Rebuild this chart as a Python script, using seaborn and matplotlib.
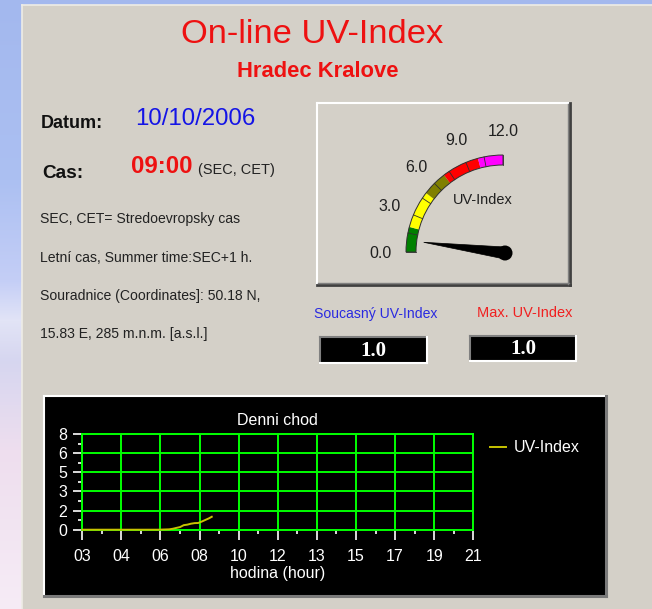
import numpy as np
import matplotlib
matplotlib.use("Agg")
import matplotlib.pyplot as plt
from matplotlib.patches import Rectangle, Wedge, Polygon, Circle
from matplotlib import font_manager
import seaborn as sns

# ---------------- data ----------------
hours = [3.0, 4.0, 5.0, 6.0, 6.5, 7.0, 7.17, 7.33, 7.5, 7.67, 7.83, 8.0,
         8.17, 8.33, 8.5, 8.67, 8.83, 8.96]
uv_index = [0.0, 0.0, 0.0, 0.0, 0.0, 0.03, 0.08, 0.15, 0.22, 0.38, 0.42, 0.5,
            0.55, 0.56, 0.68, 0.82, 0.95, 1.08]
x_tick_labels = ["03", "04", "06", "08", "10", "12", "13", "15", "17", "19", "21"]
y_tick_labels = ["0", "2", "3", "5", "6", "8"]
gauge_ticks = [0.0, 3.0, 6.0, 9.0, 12.0]
gauge_band_edges = [0, 2, 5, 7, 10, 12]
gauge_band_colors = ["#008000", "#ffff00", "#808000", "#ff0000", "#ff00ff"]
current_uv = 1.0
max_uv = 1.0
series_name = "UV-Index"

# ---------------- setup ----------------
W, H, DPI = 652, 609, 100
PT = 72.0 / DPI


def pt(px):
    return px * PT


avail = {f.name for f in font_manager.fontManager.ttflist}
SANS = "Liberation Sans" if "Liberation Sans" in avail else "DejaVu Sans"
NARROW = "Liberation Sans Narrow" if "Liberation Sans Narrow" in avail else SANS
SERIF = "Liberation Serif" if "Liberation Serif" in avail else "DejaVu Serif"
plt.rcParams["font.family"] = [NARROW, "DejaVu Sans"]

PANEL = "#d4d0c8"
fig = plt.figure(figsize=(W / DPI, H / DPI), dpi=DPI)
bg = fig.add_axes([0, 0, 1, 1])
bg.axis("off")

# sky background gradient (left/top strip)
ys = np.arange(H)
stops_y = [0, 180, 280, 320, 360, 450, 609]
stops_c = np.array([[163, 184, 238], [172, 192, 242], [196, 206, 246],
                    [226, 228, 246], [214, 214, 240], [238, 222, 238],
                    [246, 236, 246]]) / 255.0
grad = np.stack([np.interp(ys, stops_y, stops_c[:, k]) for k in range(3)], axis=1)
bg.imshow(grad[:, None, :], extent=[0, W, H, 0], aspect="auto", zorder=0)
bg.set_xlim(0, W)
bg.set_ylim(H, 0)

# main gray panel
bg.add_patch(Rectangle((22, 5), W - 22, H - 5, fc=PANEL, ec="none", zorder=1))
bg.plot([22, 22], [5, H], color="#eeece6", lw=1.2, zorder=1.5)
bg.plot([22, W], [5, 5], color="#eeece6", lw=1.2, zorder=1.5)

# titles
bg.text(312, 43, "On-line UV-Index", color="#ee1111", fontsize=pt(34.5),
        family=SANS, ha="center", va="baseline", zorder=3)
bg.text(318, 77, "Hradec Kralove", color="#ee1111", fontsize=pt(22),
        family=SANS, weight="bold", ha="center", va="baseline", zorder=3)

# left info texts
bg.text(41, 128, "Datum:", fontsize=pt(18), family=SANS, weight="bold",
        color="#111111", va="baseline", zorder=3)
bg.text(135, 125, "10/10/2006", fontsize=pt(24), family=SANS,
        color="#1414e6", va="baseline", zorder=3)
bg.text(42, 178, "Cas:", fontsize=pt(19), family=SANS, weight="bold",
        color="#111111", va="baseline", zorder=3)
bg.text(131, 173, "09:00", fontsize=pt(24), family=SANS, weight="bold",
        color="#ee1111", va="baseline", zorder=3)
bg.text(198, 174, "(SEC, CET)", fontsize=pt(14.5), family=SANS,
        color="#222222", va="baseline", zorder=3)
info_lines = ["SEC, CET= Stredoevropsky cas",
              "Letní cas, Summer time:SEC+1 h.",
              "Souradnice (Coordinates]: 50.18 N,",
              "15.83 E, 285 m.n.m. [a.s.l.]"]
for line, yb in zip(info_lines, [223, 262, 300, 338]):
    bg.text(40, yb, line, fontsize=pt(14), family=SANS, color="#222222",
            va="baseline", zorder=3)

# ---------------- gauge ----------------
gx0, gy0, gx1, gy1 = 317, 103, 570, 285
bg.add_patch(Rectangle((gx0, gy0), gx1 - gx0, gy1 - gy0, fc=PANEL, ec="none", zorder=2))
bg.plot([gx0, gx1], [gy0, gy0], color="white", lw=1.5, zorder=3)
bg.plot([gx0, gx0], [gy0, gy1], color="white", lw=1.5, zorder=3)
bg.plot([gx0, gx1], [gy1, gy1], color="#404040", lw=2, zorder=3)
bg.plot([gx1, gx1], [gy0, gy1], color="#404040", lw=2, zorder=3)
bg.plot([gx0 + 1, gx1 - 1], [gy1 - 2, gy1 - 2], color="#808080", lw=1, zorder=3)
bg.plot([gx1 - 2, gx1 - 2], [gy0 + 1, gy1 - 1], color="#808080", lw=1, zorder=3)

cx, cy = 503, 252
R_OUT, BAND = 97, 10
GMAX = gauge_ticks[-1]


def screen_angle(v):
    return 180.0 - 90.0 * v / GMAX


for v0, v1, col in zip(gauge_band_edges[:-1], gauge_band_edges[1:], gauge_band_colors):
    bg.add_patch(Wedge((cx, cy), R_OUT, -screen_angle(v0), -screen_angle(v1),
                       width=BAND, fc=col, ec="none", zorder=3))
for v in np.arange(0, GMAX + 0.01, 1.5):
    a = np.deg2rad(screen_angle(v))
    bg.plot([cx + (R_OUT - BAND) * np.cos(a), cx + R_OUT * np.cos(a)],
            [cy - (R_OUT - BAND) * np.sin(a), cy - R_OUT * np.sin(a)],
            color="#303030", lw=0.6, zorder=4)
bg.add_patch(Wedge((cx, cy), R_OUT, -screen_angle(0), -screen_angle(GMAX),
                   width=BAND, fc="none", ec="#303030", lw=0.7, zorder=4))

for v in gauge_ticks:
    a = np.deg2rad(screen_angle(v))
    bg.text(cx + 123 * np.cos(a), cy + 2 - 123 * np.sin(a), f"{v:.1f}",
            fontsize=pt(16), family=SANS, color="#202020",
            ha="center", va="center", zorder=4)
bg.text(483, 200, series_name, fontsize=pt(14.5), family=SANS, color="#202020",
        ha="center", va="center", zorder=4)

# needle
a = np.deg2rad(screen_angle(current_uv))
d = np.array([np.cos(a), -np.sin(a)])
perp = np.array([-d[1], d[0]])
piv = np.array([cx + 2, cy + 1])
tip = piv + 82 * d
bg.add_patch(Polygon([tip, piv + 6 * perp, piv - 6 * perp], closed=True,
                     fc="black", ec="black", lw=0.5, zorder=5))
bg.add_patch(Circle(piv, 7.5, fc="black", ec="none", zorder=5))

# value boxes
bg.text(376, 314, "Soucasný UV-Index", fontsize=pt(14), family=SANS,
        color="#2a2ae0", ha="center", va="center", zorder=3)
bg.text(525, 313, "Max. UV-Index", fontsize=pt(14.5), family=SANS,
        color="#f02020", ha="center", va="center", zorder=3)
for (bx0, by0, bx1, by1), val in [((320, 337, 427, 363), current_uv),
                                  ((470, 336, 576, 361), max_uv)]:
    bg.add_patch(Rectangle((bx0, by0), bx1 - bx0, by1 - by0, fc="black",
                           ec="none", zorder=3))
    bg.plot([bx0, bx1], [by0, by0], color="#808080", lw=1.5, zorder=4)
    bg.plot([bx0, bx0], [by0, by1], color="#808080", lw=1.5, zorder=4)
    bg.plot([bx0, bx1], [by1, by1], color="white", lw=1.5, zorder=4)
    bg.plot([bx1, bx1], [by0, by1], color="white", lw=1.5, zorder=4)
    bg.text((bx0 + bx1) / 2, (by0 + by1) / 2 + 1, f"{val:.1f}", fontsize=pt(21),
            family=SERIF, weight="bold", color="white",
            ha="center", va="center", zorder=5)

# ---------------- daily chart ----------------
cbx0, cby0, cbx1, cby1 = 44, 396, 605, 595
bg.add_patch(Rectangle((cbx0, cby0), cbx1 - cbx0, cby1 - cby0, fc="black",
                       ec="none", zorder=2))
bg.plot([cbx0, cbx1], [cby0, cby0], color="white", lw=1.5, zorder=3)
bg.plot([cbx0, cbx0], [cby0, cby1], color="white", lw=1.5, zorder=3)
bg.plot([cbx0, cbx1 + 1], [cby1 + 1, cby1 + 1], color="#7a7a7a", lw=2.2, zorder=3)
bg.plot([cbx1 + 1, cbx1 + 1], [cby0, cby1 + 1], color="#7a7a7a", lw=2.2, zorder=3)

px0, px1, py_top, py_bot = 82.3, 473.3, 434.0, 529.7
ax = fig.add_axes([px0 / W, (H - py_bot) / H, (px1 - px0) / W, (py_bot - py_top) / H])
ax.set_facecolor("black")
ax.set_zorder(5)
sns.lineplot(x=hours, y=uv_index, ax=ax, color="#c8c400", lw=1.4,
             label=series_name, zorder=4)
for ln in ax.get_lines():
    ln.set_clip_on(False)
ax.set_xlim(3, 21)
ax.set_ylim(0, 8)
xt = np.linspace(3, 21, len(x_tick_labels))
yt = np.linspace(0, 8, len(y_tick_labels))
ax.set_xticks(xt)
ax.set_xticklabels(x_tick_labels)
ax.set_yticks(yt)
ax.set_yticklabels(y_tick_labels)
ax.set_xticks((xt[:-1] + xt[1:]) / 2, minor=True)
ax.set_yticks((yt[:-1] + yt[1:]) / 2, minor=True)
ax.set_axisbelow(True)
ax.grid(True, which="major", color="#00ff00", lw=1.4)
for s in ax.spines.values():
    s.set_color("#00ff00")
    s.set_linewidth(1.4)
    s.set_zorder(1)
ax.tick_params(axis="x", which="major", length=pt(10), width=1.2, color="white",
               labelcolor="white", labelsize=pt(16), pad=pt(9))
ax.tick_params(axis="x", which="minor", length=pt(4), width=1.2, color="white")
ax.tick_params(axis="y", which="major", length=pt(9), width=1.2, color="white",
               labelcolor="white", labelsize=pt(16), pad=pt(6))
ax.tick_params(axis="y", which="minor", length=pt(4), width=1.2, color="white")
ax.set_xlabel("hodina (hour)", color="white", fontsize=pt(16), labelpad=pt(2))
ax.set_ylabel("")
ax.set_title("Denni chod", color="white", fontsize=pt(16), pad=pt(9))
ax.legend(loc="center left", bbox_to_anchor=(1.043, 0.854), frameon=False,
          labelcolor="white", prop={"family": NARROW, "size": pt(16)},
          handlelength=1.0, handletextpad=0.5, borderpad=0, borderaxespad=0)
for line in ax.get_legend().get_lines():
    line.set_linewidth(1.4)

fig.savefig("out.png", dpi=DPI)
